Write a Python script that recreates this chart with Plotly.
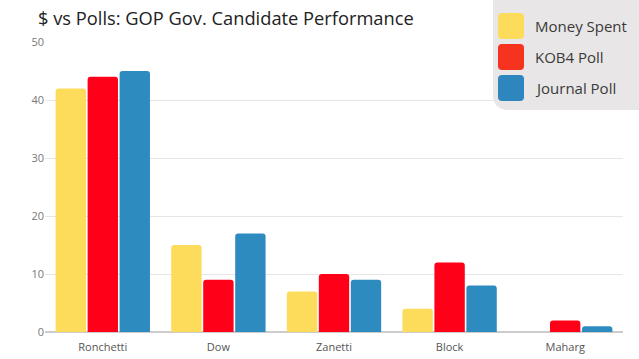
import plotly.graph_objects as go

categories = ["Ronchetti", "Dow", "Zanetti", "Block", "Maharg"]
money_spent = [42, 15, 7, 4, 0]
kob4_poll = [44, 9, 10, 12, 2]
journal_poll = [45, 17, 9, 8, 1]
series_names = ["Money Spent", "KOB4 Poll", "Journal Poll"]
bar_colors = ["#FDDC5C", "#FF0019", "#2E8BC0"]
legend_colors = ["#FDDC5C", "#F5331F", "#2D87BE"]
y_ticks = [0, 10, 20, 30, 40, 50]

W, H = 639, 359
ML, MR, MT, MB = 45, 16, 42, 27
PW, PH = W - ML - MR, H - MT - MB

def px(x):
    return (x - ML) / PW

def py(y):
    return (H - MB - y) / PH

def rrect(x0, y0, x1, y1, r, corners=(True, True, True, True)):
    tl, tr, br, bl = corners
    rx, ry = r / PW, r / PH
    X0, X1, Y0, Y1 = px(x0), px(x1), py(y0), py(y1)
    p = f"M {X0 + (rx if tl else 0)},{Y0} "
    p += f"L {X1 - (rx if tr else 0)},{Y0} "
    if tr:
        p += f"Q {X1},{Y0} {X1},{Y0 - ry} "
    p += f"L {X1},{Y1 + (ry if br else 0)} "
    if br:
        p += f"Q {X1},{Y1} {X1 - rx},{Y1} "
    p += f"L {X0 + (rx if bl else 0)},{Y1} "
    if bl:
        p += f"Q {X0},{Y1} {X0},{Y1 + ry} "
    p += f"L {X0},{Y0 - (ry if tl else 0)} "
    if tl:
        p += f"Q {X0},{Y0} {X0 + rx},{Y0} "
    p += "Z"
    return p

fig = go.Figure()
for name, vals, col in zip(series_names, [money_spent, kob4_poll, journal_poll], bar_colors):
    fig.add_trace(go.Bar(x=categories, y=vals, name=name, marker=dict(color=col, line=dict(width=0)),
                         showlegend=False))

shapes = [dict(type="path", xref="paper", yref="paper",
               path=rrect(493, -10, 660, 110, 16, (False, False, False, True)),
               fillcolor="#E8E6E6", line=dict(width=0), layer="above")]
annotations = []
sw_y = [(13, 39), (44, 70), (75, 101)]
for (y0, y1), col, name in zip(sw_y, legend_colors, series_names):
    shapes.append(dict(type="path", xref="paper", yref="paper",
                       path=rrect(498, y0, 524, y1, 4), fillcolor=col,
                       line=dict(width=0), layer="above"))
    annotations.append(dict(xref="paper", yref="paper", x=px(533), y=py((y0 + y1) / 2),
                            xanchor="left", yanchor="middle", text=name, showarrow=False,
                            font=dict(family="Open Sans", size=15, color="#3A3A3A")))

fig.update_layout(
    width=W, height=H,
    margin=dict(l=ML, r=MR, t=MT, b=MB, autoexpand=False),
    paper_bgcolor="white", plot_bgcolor="white",
    barmode="group", bargap=0.17, bargroupgap=0.05, barcornerradius=3,
    title=dict(text="$ vs Polls: GOP Gov. Candidate Performance", xref="container", x=38 / W,
               xanchor="left", yref="container", y=1 - 19 / H, yanchor="middle",
               font=dict(family="Open Sans", size=18.3, color="#222222")),
    font=dict(family="Open Sans"),
    xaxis=dict(showgrid=False, showline=False, ticks="", ticklabelstandoff=7, automargin=False,
               tickfont=dict(size=11, color="#555555")),
    yaxis=dict(range=[0, 50], tickvals=y_ticks, showgrid=True, gridcolor="#E6E6E6", gridwidth=1,
               zeroline=True, zerolinecolor="#CCCCCC", zerolinewidth=2, showline=False,
               automargin=False,
               tickfont=dict(size=11, color="#777777"), ticks="", ticklabelstandoff=0),
    shapes=shapes, annotations=annotations,
)
fig.write_html("out.html", config={"displayModeBar": False},
               post_script="document.body.style.margin='0px';")
